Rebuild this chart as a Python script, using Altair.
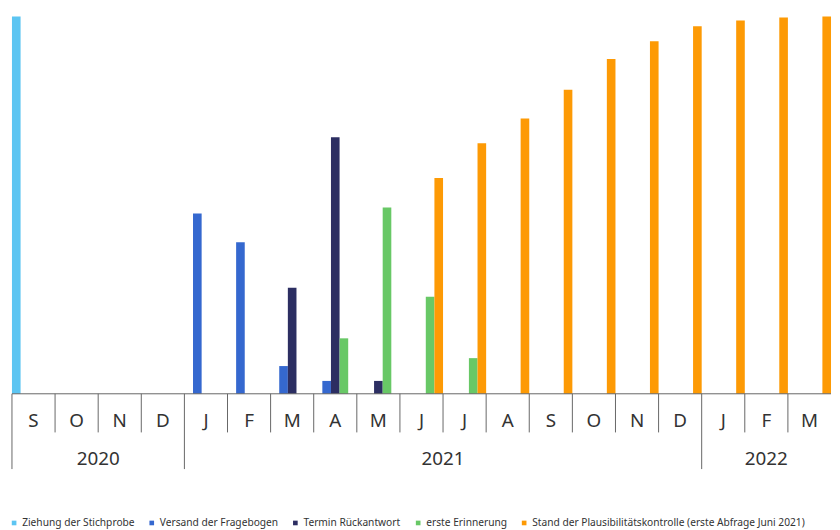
import altair as alt
import pandas as pd

# ---- data ----
months = ["Sep 2020", "Oct 2020", "Nov 2020", "Dec 2020",
          "Jan 2021", "Feb 2021", "Mar 2021", "Apr 2021", "May 2021", "Jun 2021",
          "Jul 2021", "Aug 2021", "Sep 2021", "Oct 2021", "Nov 2021", "Dec 2021",
          "Jan 2022", "Feb 2022", "Mar 2022"]
month_letters = ["S", "O", "N", "D", "J", "F", "M", "A", "M", "J", "J", "A",
                 "S", "O", "N", "D", "J", "F", "M"]

series = ["Ziehung der Stichprobe", "Versand der Fragebogen", "Termin Rückantwort",
          "erste Erinnerung", "Stand der Plausibilitätskontrolle (erste Abfrage Juni 2021)"]
colors = ["#5cc5f2", "#3568cf", "#2c2e62", "#68c866", "#fd9a05"]

ziehung =    [381, None, None, None, None, None, None, None, None, None, None, None, None, None, None, None, None, None, None]
versand =    [None, None, None, None, 182, 153, 28, 13, None, None, None, None, None, None, None, None, None, None, None]
termin =     [None, None, None, None, None, None, 107, 259, 13, None, None, None, None, None, None, None, None, None, None]
erinnerung = [None, None, None, None, None, None, None, 56, 188, 98, 36, None, None, None, None, None, None, None, None]
plausi =     [None, None, None, None, None, None, None, None, None, 218, 253, 278, 307, 338, 356, 371, 377, 380, 381]

year_labels = ["2020", "2021"]
year_label_anchor = ["Nov 2020", "Jul 2021"]   # label centred on a month boundary
year_label_2022 = ["2022"]
year_label_2022_anchor = ["Feb 2022"]          # label centred on a month
year_starts = ["Sep 2020", "Jan 2021", "Jan 2022"]

# ---- tables ----
rows = []
for s, vals in zip(series, [ziehung, versand, termin, erinnerung, plausi]):
    for m, v in zip(months, vals):
        if v is not None:
            rows.append({"month": m, "series": s, "value": v})
df_bars = pd.DataFrame(rows)
df_months = pd.DataFrame({"month": months, "label": month_letters})
df_mdiv = pd.DataFrame({"month": [m for m in months if m not in year_starts]})
df_ydiv = pd.DataFrame({"month": year_starts})
df_years = pd.DataFrame({"month": year_label_anchor, "label": year_labels})
df_year22 = pd.DataFrame({"month": year_label_2022_anchor, "label": year_label_2022})

W, H = 827, 381
FONT = "Noto Sans"
TXT = "#333333"
LINE = "#666666"

x_scale = alt.Scale(type="band", domain=months, paddingInner=0, paddingOuter=0)

bars = alt.Chart(df_bars).mark_bar().encode(
    x=alt.X("month:N", scale=x_scale, axis=None),
    xOffset=alt.XOffset("series:N", scale=alt.Scale(domain=series, paddingInner=0, paddingOuter=0)),
    y=alt.Y("value:Q", scale=alt.Scale(domain=[0, 381], nice=False, zero=True), axis=None),
    color=alt.Color("series:N", scale=alt.Scale(domain=series, range=colors),
                    legend=alt.Legend(title=None, orient="none", legendX=-3, legendY=506,
                                      direction="horizontal", columns=5, padding=0,
                                      symbolType="square", symbolSize=22, symbolStrokeWidth=0,
                                      labelFont=FONT, labelFontSize=10.3, labelColor=TXT,
                                      labelOffset=3, columnPadding=12, labelLimit=500)),
)

baseline = alt.Chart(pd.DataFrame({"a": [0]})).mark_rule(color=LINE, strokeWidth=1).encode(
    x=alt.value(0), x2=alt.value(W), y=alt.value(H)
)

mdiv = alt.Chart(df_mdiv).mark_rule(color=LINE, strokeWidth=1).encode(
    x=alt.X("month:N", scale=x_scale, bandPosition=0, axis=None),
    y=alt.value(H), y2=alt.value(420),
)

ydiv = alt.Chart(df_ydiv).mark_rule(color=LINE, strokeWidth=1).encode(
    x=alt.X("month:N", scale=x_scale, bandPosition=0, axis=None),
    y=alt.value(H), y2=alt.value(457),
)

mlab = alt.Chart(df_months).mark_text(font=FONT, fontSize=19, color=TXT, baseline="middle").encode(
    x=alt.X("month:N", scale=x_scale, axis=None),
    y=alt.value(409),
    text="label:N",
)

ylab = alt.Chart(df_years).mark_text(font=FONT, fontSize=19, color=TXT, baseline="middle").encode(
    x=alt.X("month:N", scale=x_scale, bandPosition=0, axis=None),
    y=alt.value(447),
    text="label:N",
)

ylab22 = alt.Chart(df_year22).mark_text(font=FONT, fontSize=19, color=TXT, baseline="middle").encode(
    x=alt.X("month:N", scale=x_scale, axis=None),
    y=alt.value(447),
    text="label:N",
)

chart = alt.layer(bars, baseline, mdiv, ydiv, mlab, ylab, ylab22).properties(
    width=W, height=H,
    padding={"left": 1, "top": 6, "right": 0, "bottom": 0},
    background="white",
).configure_view(stroke=None)

chart.save("out.html", embed_options={"renderer": "svg", "actions": False})
